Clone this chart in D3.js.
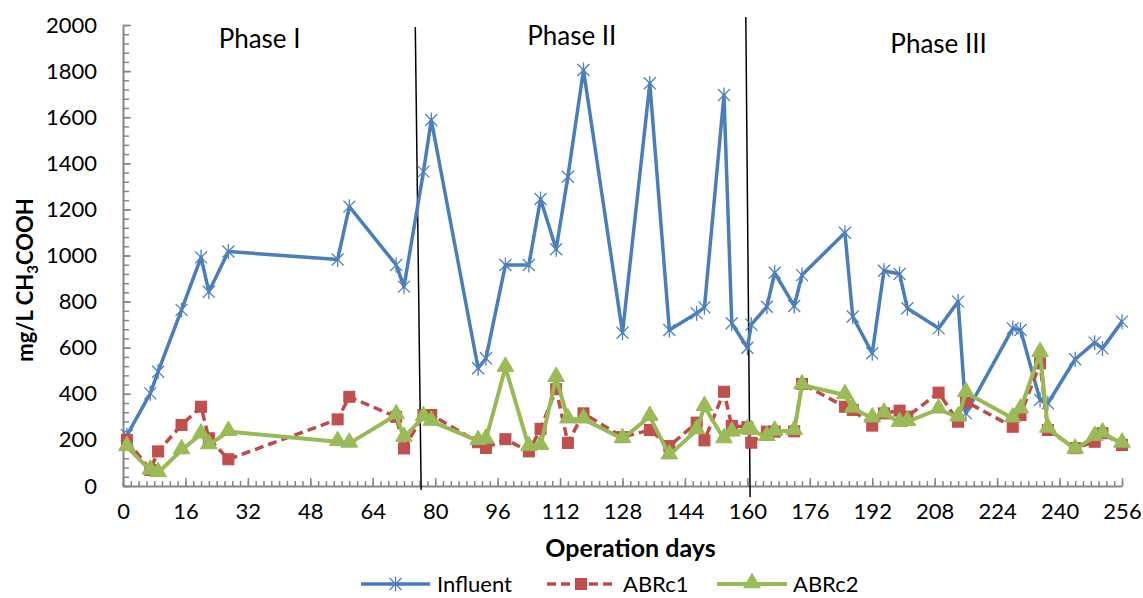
<!DOCTYPE html>
<meta charset="utf-8">
<style>
body { margin: 0; background: #fff; }
text { font-family: "Lato", "Liberation Sans", sans-serif; fill: #000; }
</style>
<body>
<script src="https://d3js.org/d3.v7.min.js"></script>
<script>

// sampling days (shared by all three series)
const days = [1, 7, 9, 15, 20, 22, 27, 55, 58, 70, 72, 77, 79, 91, 93, 98, 104, 107, 111, 114, 118,
  128, 135, 140, 147, 149, 154, 156, 160, 161, 165, 167, 172, 174, 185, 187, 192, 195, 199, 201,
  209, 214, 216, 228, 230, 235, 237, 244, 249, 251, 256];

const influent = [220, 402, 496, 764, 992, 843, 1017, 983, 1212, 959, 865, 1364, 1588, 511, 554, 959, 959, 1245, 1027, 1342, 1805,
  665, 1747, 677, 749, 775, 1696, 706, 600, 700, 778, 925, 781, 915, 1099, 735, 576, 934, 920, 771,
  684, 800, 315, 684, 677, 373, 359, 550, 622, 597, 713];

const abrc1 = [200, 69, 150, 265, 344, 207, 116, 289, 387, 300, 163, 308, 308, 190, 165, 203, 150, 248, 420, 187, 315,
  212, 243, 173, 275, 198, 409, 261, 255, 188, 236, 236, 237, 443, 344, 330, 262, 315, 327, 301,
  405, 279, 366, 257, 308, 532, 243, 164, 192, 229, 178];

const abrc2 = [170, 68, 57, 156, 225, 178, 236, 192, 185, 308, 210, 300, 280, 196, 202, 514, 170, 175, 470, 290, 290,
  205, 301, 134, 243, 344, 204, 233, 243, 240, 214, 237, 240, 438, 395, 337, 294, 315, 275, 279,
  333, 298, 405, 294, 333, 578, 250, 159, 214, 229, 185];

const seriesNames = ["Influent", "ABRc1", "ABRc2"];

// phase separators, in data units (top and bottom ends of each hand-drawn line)
const phaseLines = [
  { x0: 74.9, y0: 1991, x1: 76.4, y1: -17 },
  { x0: 159.6, y0: 2035, x1: 160.7, y1: -48 }
];
const phaseLabels = [
  { text: "Phase I", day: 35, value: 1900 },
  { text: "Phase II", day: 115, value: 1915 },
  { text: "Phase III", day: 209, value: 1880 }
];

const W = 1143, H = 598;
const plot = { left: 123, right: 1122, top: 25, bottom: 486 };

const svg = d3.select("body").append("svg")
  .attr("width", W)
  .attr("height", H);

const x = d3.scaleLinear().domain([0, 256]).range([plot.left, plot.right]);
const y = d3.scaleLinear().domain([0, 2000]).range([plot.bottom, plot.top]);

const axisGrey = "#868686";

// minor ticks first, major ticks + labels on top
svg.append("g")
  .attr("transform", `translate(0,${plot.bottom})`)
  .call(d3.axisBottom(x).tickValues(d3.range(0, 257, 2)).tickSize(-5).tickFormat(""))
  .call(g => g.select(".domain").remove())
  .call(g => g.selectAll("line").attr("stroke", axisGrey).attr("stroke-width", 1.5));

svg.append("g")
  .attr("transform", `translate(${plot.left},0)`)
  .call(d3.axisLeft(y).tickValues(d3.range(0, 2001, 40)).tickSize(-6).tickFormat(""))
  .call(g => g.select(".domain").remove())
  .call(g => g.selectAll("line").attr("stroke", axisGrey).attr("stroke-width", 1.5));

const xAxis = svg.append("g")
  .attr("transform", `translate(0,${plot.bottom})`)
  .call(d3.axisBottom(x).tickValues(d3.range(0, 257, 16)).tickSizeInner(-8).tickSizeOuter(0).tickPadding(17));
xAxis.select(".domain").attr("stroke", axisGrey).attr("stroke-width", 2);
xAxis.selectAll("line").attr("stroke", axisGrey).attr("stroke-width", 1.5);
xAxis.selectAll("text").style("font-size", "22px").style("font-family", "Lato").attr("fill", "#000");

const yAxis = svg.append("g")
  .attr("transform", `translate(${plot.left},0)`)
  .call(d3.axisLeft(y).tickValues(d3.range(0, 2001, 200)).tickFormat(d3.format("d"))
    .tickSizeInner(-8).tickSizeOuter(0).tickPadding(26));
yAxis.select(".domain").attr("stroke", axisGrey).attr("stroke-width", 2);
yAxis.selectAll("line").attr("stroke", axisGrey).attr("stroke-width", 1.5);
yAxis.selectAll("text").style("font-size", "22px").style("font-family", "Lato").attr("fill", "#000");

// axis titles
svg.append("text")
  .attr("x", (plot.left + plot.right) / 2 + 8)
  .attr("y", 557)
  .attr("text-anchor", "middle")
  .style("font-size", "25px")
  .style("font-weight", "bold")
  .text("Operation days");

const yTitle = svg.append("text")
  .attr("transform", "translate(33,280) rotate(-90)")
  .attr("text-anchor", "middle")
  .style("font-size", "22px")
  .style("font-weight", "bold");
yTitle.append("tspan").text("mg/L CH");
yTitle.append("tspan").attr("dy", 5).style("font-size", "15px").text("3");
yTitle.append("tspan").attr("dy", -5).text("COOH");

// phase separators and labels
svg.append("g")
  .selectAll("line")
  .data(phaseLines)
  .join("line")
  .attr("x1", d => x(d.x0)).attr("y1", d => y(d.y0))
  .attr("x2", d => x(d.x1)).attr("y2", d => y(d.y1))
  .attr("stroke", "#000")
  .attr("stroke-width", 1.5);

svg.append("g")
  .selectAll("text")
  .data(phaseLabels)
  .join("text")
  .attr("x", d => x(d.day))
  .attr("y", d => y(d.value))
  .attr("text-anchor", "middle")
  .style("font-size", "26px")
  .text(d => d.text);

// series
const series = [
  { name: seriesNames[0], values: influent, color: "#4A7EBB", marker: "star", dash: null, width: 3.5 },
  { name: seriesNames[1], values: abrc1, color: "#BE4B48", marker: "square", dash: "9,5", width: 3.5 },
  { name: seriesNames[2], values: abrc2, color: "#98B954", marker: "triangle", dash: null, width: 4 }
];

const starPath = "M-6,-6L6,6M-6,6L6,-6M0,-7.5L0,7.5";
const trianglePath = d3.symbol(d3.symbolTriangle, 120)();

function drawMarker(sel, s) {
  if (s.marker === "star") {
    sel.append("path").attr("d", starPath)
      .attr("fill", "none").attr("stroke", "#4F81BD").attr("stroke-width", 1.3);
  } else if (s.marker === "square") {
    sel.append("rect").attr("x", -5.5).attr("y", -5.5).attr("width", 11).attr("height", 11)
      .attr("fill", "#C0504D").attr("stroke", "#BE4B48").attr("stroke-width", 1);
  } else {
    sel.append("path").attr("d", trianglePath).attr("transform", "translate(0,-1)")
      .attr("fill", "#9BBB59").attr("stroke", "#98B954").attr("stroke-width", 1);
  }
}

const line = d3.line()
  .x((v, i) => x(days[i]))
  .y(v => y(v));

series.forEach(s => {
  const g = svg.append("g");
  g.append("path")
    .attr("d", line(s.values))
    .attr("fill", "none")
    .attr("stroke", s.color)
    .attr("stroke-width", s.width)
    .attr("stroke-linejoin", "round")
    .attr("stroke-dasharray", s.dash);
  g.selectAll("g.pt")
    .data(s.values)
    .join("g")
    .attr("class", "pt")
    .attr("transform", (v, i) => `translate(${x(days[i])},${y(v)})`)
    .each(function() { drawMarker(d3.select(this), s); });
});

// legend
const legendY = 584;
const legendItems = [
  { s: series[0], x0: 361, x1: 430, tx: 437 },
  { s: series[1], x0: 547, x1: 615, tx: 623 },
  { s: series[2], x0: 717, x1: 787, tx: 793 }
];
legendItems.forEach(item => {
  const g = svg.append("g");
  g.append("line")
    .attr("x1", item.x0).attr("x2", item.x1)
    .attr("y1", legendY).attr("y2", legendY)
    .attr("stroke", item.s.color)
    .attr("stroke-width", item.s.width)
    .attr("stroke-dasharray", item.s.dash);
  const m = g.append("g").attr("transform", `translate(${(item.x0 + item.x1) / 2},${legendY})`);
  drawMarker(m, item.s);
  g.append("text")
    .attr("x", item.tx)
    .attr("y", legendY + 8)
    .style("font-size", "22px")
    .text(item.s.name);
});

</script>
</body>
